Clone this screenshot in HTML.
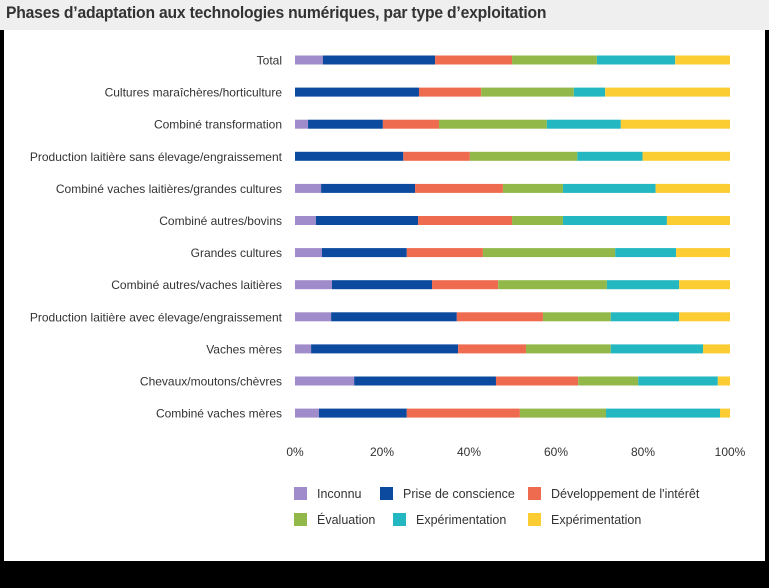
<!DOCTYPE html>
<html><head><meta charset="utf-8"><style>
body{margin:0;width:769px;height:588px;background:#000;overflow:hidden;font-family:"Liberation Sans",sans-serif}
#top{position:absolute;left:0;top:0;width:769px;height:30px;background:#efefef}
#title{position:absolute;left:6px;top:4px;font-size:16.5px;font-weight:bold;color:#333;letter-spacing:-0.2px;transform:scaleX(0.95);transform-origin:left}
#panel{position:absolute;left:4px;top:30px;width:761px;height:531px;background:#fff}
svg{position:absolute;left:0;top:0}
</style></head><body>
<div id="top"><div id="title">Phases d’adaptation aux technologies numériques, par type d’exploitation</div></div>
<div id="panel"></div>
<svg id="chart" width="769" height="588"></svg>
<script>
const categories=["Total","Cultures maraîchères/horticulture","Combiné transformation","Production laitière sans élevage/engraissement","Combiné vaches laitières/grandes cultures","Combiné autres/bovins","Grandes cultures","Combiné autres/vaches laitières","Production laitière avec élevage/engraissement","Vaches mères","Chevaux/moutons/chèvres","Combiné vaches mères"];
const seriesNames=["Inconnu","Prise de conscience","Développement de l'intérêt","Évaluation","Expérimentation","Expérimentation"];
const inconnu=[6.4,0,3,0,6,4.8,6.2,8.5,8.3,3.7,13.6,5.5];
const prise=[25.8,28.5,17.2,24.9,21.6,23.5,19.5,23,28.9,33.8,32.6,20.2];
const developpement=[17.7,14.3,12.9,15.3,20.2,21.6,17.5,15.2,19.8,15.6,18.9,26];
const evaluation=[19.5,21.3,24.8,24.7,13.8,11.7,30.4,25,15.6,19.5,13.8,19.8];
const experimentation=[18,7.2,17,15,21.3,23.9,14,16.6,15.7,21.2,18.3,26.2];
const experimentation2=[12.6,28.7,25.1,20.1,17.1,14.5,12.4,11.7,11.7,6.2,2.8,2.3];
const ticks=[0,20,40,60,80,100];
const tickLabels=["0%","20%","40%","60%","80%","100%"];
const colors=["#a18ccb","#0b4a9e","#ef6b50","#92b84a","#22b7c1","#fbcd33"];
const series=[inconnu,prise,developpement,evaluation,experimentation,experimentation2];
const svg=document.getElementById('chart');const NS="http://www.w3.org/2000/svg";
const x=v=>295+v*4.35;const y=i=>60+i*32.1;
function mk(t,a){const e=document.createElementNS(NS,t);for(const k in a)e.setAttribute(k,a[k]);svg.appendChild(e);return e;}
categories.forEach((c,i)=>{
 const t=mk('text',{x:282,y:y(i)+4.5,'text-anchor':'end','font-size':12,fill:'#333'});
 t.textContent=c;
 
 
 let acc=0;
 series.forEach((s,j)=>{
  const r=mk('rect',{x:x(acc),y:y(i)-4.5,width:Math.max(0,x(acc+s[i])-x(acc)),height:9,fill:colors[j]});
  
  
  acc+=s[i];
 });
});
ticks.forEach((v,k)=>{
 const t=mk('text',{x:x(v),y:456,'text-anchor':'middle','font-size':12,fill:'#333'});
 t.textContent=tickLabels[k];
 
 
});
const lx=[[294,380,528],[294,393,528]],ly=[493,519];
seriesNames.forEach((n,j)=>{
 const row=Math.floor(j/3);const cx=lx[row][j%3],cy=ly[row];
 const r=mk('rect',{x:cx,y:cy-6,width:13,height:13,fill:colors[j]});
 
 
 const t=mk('text',{x:cx+23,y:cy+5,'font-size':12.5,fill:'#333'});
 t.textContent=n;
 
 
});
</script>
</body></html>
